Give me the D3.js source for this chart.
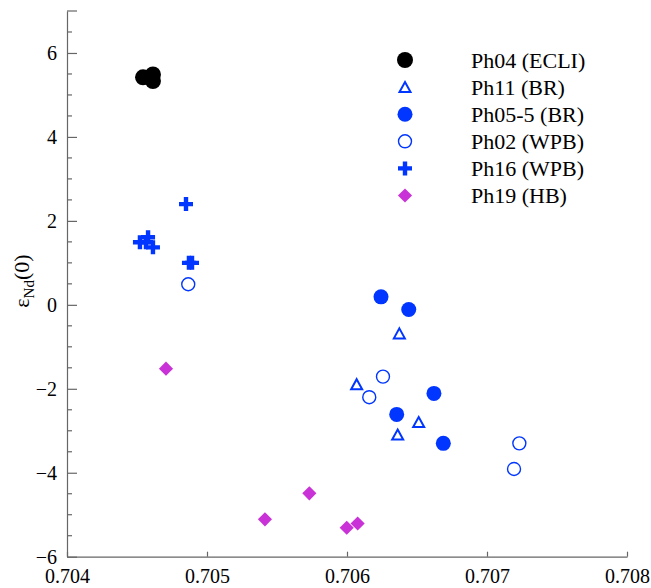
<!DOCTYPE html>
<html>
<head>
<meta charset="utf-8">
<script src="https://cdn.jsdelivr.net/npm/d3@7"></script>
<style>
  body { margin: 0; background: #fff; }
  text { font-family: "Liberation Serif", "Times New Roman", serif; }
</style>
</head>
<body>
<script>
// Sr isotope (x) vs eps Nd(0) (y), one array per sample group
const ph04 = [[0.704543, 5.42], [0.704593, 5.42], [0.704614, 5.49], [0.704614, 5.33]];
const ph11 = [[0.706374, -0.68], [0.706069, -1.89], [0.706512, -2.79], [0.706362, -3.09]];
const ph055 = [[0.706243, 0.19], [0.706441, -0.11], [0.706621, -2.11], [0.706355, -2.61], [0.706688, -3.30]];
const ph02 = [[0.704866, 0.49], [0.706257, -1.71], [0.706159, -2.20], [0.707231, -3.30], [0.707193, -3.91]];
const ph16 = [[0.70485, 2.40], [0.704871, 1.00], [0.704893, 1.00], [0.704521, 1.49], [0.704564, 1.49], [0.704579, 1.61], [0.704614, 1.37]];
const ph19 = [[0.704707, -1.52], [0.705731, -4.49], [0.705414, -5.11], [0.705998, -5.31], [0.706076, -5.21]];

const legendNames = ["Ph04 (ECLI)", "Ph11 (BR)", "Ph05-5 (BR)", "Ph02 (WPB)", "Ph16 (WPB)", "Ph19 (HB)"];
const xTicks = [0.704, 0.705, 0.706, 0.707, 0.708];
const yTicks = [-6, -4, -2, 0, 2, 4, 6];

const width = 651, height = 588;
const blue = "#0036ff", magenta = "#c832d6";
const serif = "'Liberation Serif', 'Times New Roman', serif";

const svg = d3.select("body").append("svg")
    .attr("width", width)
    .attr("height", height);

const x = d3.scaleLinear().domain([0.704, 0.708]).range([67, 627]);
const y = d3.scaleLinear().domain([-6, 7]).range([556.7, 11]);

// axes
const yAxis = svg.append("g")
    .attr("transform", "translate(67,0)")
    .call(d3.axisLeft(y).tickValues(yTicks).tickSize(-10).tickSizeOuter(0).tickPadding(10).tickFormat(d3.format("d")));

// minor ticks on y every 0.5, plus the top tick
const minor = d3.range(-6, 7.01, 0.5).filter(v => !yTicks.includes(v) && v !== 7);
yAxis.selectAll(".minor")
    .data(minor)
    .enter().append("line")
    .attr("class", "minor")
    .attr("x1", 0).attr("x2", 5)
    .attr("y1", d => y(d)).attr("y2", d => y(d));
yAxis.append("line")
    .attr("x1", 0).attr("x2", 10)
    .attr("y1", y(7)).attr("y2", y(7));

const xAxis = svg.append("g")
    .attr("transform", "translate(0,556.7)")
    .call(d3.axisBottom(x).tickValues(xTicks).tickSize(-5).tickSizeOuter(0).tickPadding(12).tickFormat(d3.format(".3f")));

svg.selectAll(".domain, .tick line, .minor, g > line")
    .attr("stroke", "#666")
    .attr("stroke-width", 1.2);
[xAxis, yAxis].forEach(a => a.attr("font-family", serif).attr("font-size", 20));
svg.selectAll(".tick text")
    .attr("fill", "#000")
    .style("font-family", serif)
    .style("font-size", "20px");

// y axis label: epsilon Nd (0)
const ylab = svg.append("text")
    .attr("transform", "translate(29,281) rotate(-90)")
    .attr("text-anchor", "middle")
    .style("font-size", "22px");
ylab.append("tspan").text("ε");
ylab.append("tspan").attr("dy", 5).style("font-size", "15px").text("Nd");
ylab.append("tspan").attr("dy", -5).text("(0)");

// marker drawing helpers
function crossPath(a, t) {
    return `M${-t},${-a}H${t}V${-t}H${a}V${t}H${t}V${a}H${-t}V${t}H${-a}V${-t}H${-t}Z`;
}
function triPath(w, h) {
    return `M0,${-h / 2}L${w / 2},${h / 2}L${-w / 2},${h / 2}Z`;
}
const diamond = d3.symbol().type(d3.symbolSquare).size(100)();

function drawMarker(g, kind) {
    if (kind === 0) g.append("circle").attr("r", 8).attr("fill", "#000");
    if (kind === 1) g.append("path").attr("d", triPath(11, 10)).attr("fill", "none").attr("stroke", blue).attr("stroke-width", 2);
    if (kind === 2) g.append("circle").attr("r", 7.5).attr("fill", blue);
    if (kind === 3) g.append("circle").attr("r", 6.5).attr("fill", "none").attr("stroke", blue).attr("stroke-width", 1.4);
    if (kind === 4) g.append("path").attr("d", crossPath(7, 2.2)).attr("fill", blue);
    if (kind === 5) g.append("path").attr("d", diamond).attr("transform", "rotate(45)").attr("fill", magenta);
}

const groups = [ph04, ph11, ph055, ph02, ph16, ph19];
groups.forEach((pts, k) => {
    svg.append("g").selectAll("g")
        .data(pts)
        .enter().append("g")
        .attr("transform", d => `translate(${x(d[0])},${y(d[1])})`)
        .each(function () { drawMarker(d3.select(this), k); });
});

// legend
const leg = svg.append("g");
legendNames.forEach((name, i) => {
    const row = leg.append("g").attr("transform", `translate(405,${60 + i * 27.1})`);
    drawMarker(row, i);
    row.append("text")
        .attr("x", 66)
        .attr("dy", "0.35em")
        .style("font-size", "22px")
        .text(name);
});
</script>
</body>
</html>
